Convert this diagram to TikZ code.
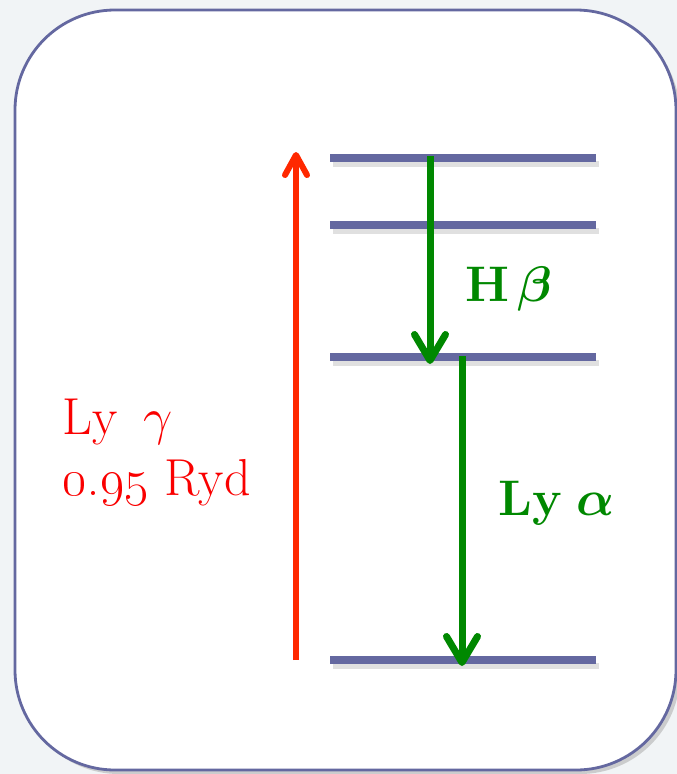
\RequirePackage{fix-cm}
\documentclass[tikz,border=0pt]{standalone}
\usetikzlibrary{arrows.meta}
\begin{document}
\begin{tikzpicture}[x=1pt,y=-1pt]
\tikzset{
  level/.style={draw=levelblue, line width=8pt},
  lvshadow/.style={draw=black!40, line width=6pt, opacity=.3},
  photon/.style={line width=7pt, -{Straight Barb[round,length=26pt,width=31pt]}},
  bigtext/.style={font=\fontsize{52}{58}\selectfont, inner sep=0pt, anchor=base west},
  greentext/.style={bigtext, text=linegreen, font=\fontsize{50}{58}\selectfont\bfseries\boldmath}
}

\definecolor{levelblue}{RGB}{100,104,160}
\definecolor{lyred}{RGB}{255,40,0}
\definecolor{txtred}{RGB}{250,0,0}
\definecolor{linegreen}{RGB}{0,136,0}
\definecolor{skybg}{RGB}{241,244,246}

\fill[skybg] (0,0) rectangle (677,774);
\useasboundingbox (0,0) rectangle (677,774);

% panel
\fill[black!35, opacity=.5, rounded corners=100pt] (19,15) rectangle (680,774);
\draw[levelblue, line width=2.8pt, fill=white, rounded corners=100pt] (15,10) rectangle (676,770);

% energy levels
\foreach \n/\y in {4/158,3/225,2/357,1/660} {
  \coordinate (l\n w) at (330,\y);
  \coordinate (l\n e) at (596,\y);
  \draw[lvshadow] ([shift={(3,6)}]l\n w) -- ([shift={(3,6)}]l\n e);
  \draw[level] (l\n w) -- (l\n e);
}

% transitions
\coordinate (gbot) at (296,660);
\coordinate (gtop) at (296,152);
\coordinate (btop) at (430,156);
\coordinate (bbot) at (430,364);
\coordinate (atop) at (462,356);
\coordinate (abot) at (462,666);
\draw[photon, lyred, line width=6pt, -{Straight Barb[round,length=20pt,width=22pt]}] (gbot) -- (gtop);
\draw[photon, linegreen] (btop) -- (bbot);
\draw[photon, linegreen] (atop) -- (abot);

% labels
\node[bigtext, txtred] (lyg) at (62,434) {Ly\hspace{.5em}$\gamma$};
\node[bigtext, txtred] (ryd) at (62,495) {\oldstylenums{0.95} Ryd};
\node[greentext] (hb) at (465,301) {H\,$\beta$};
\node[greentext] (lya) at (498,515) {Ly\hspace{.3em}$\alpha$};
\end{tikzpicture}
\end{document}
